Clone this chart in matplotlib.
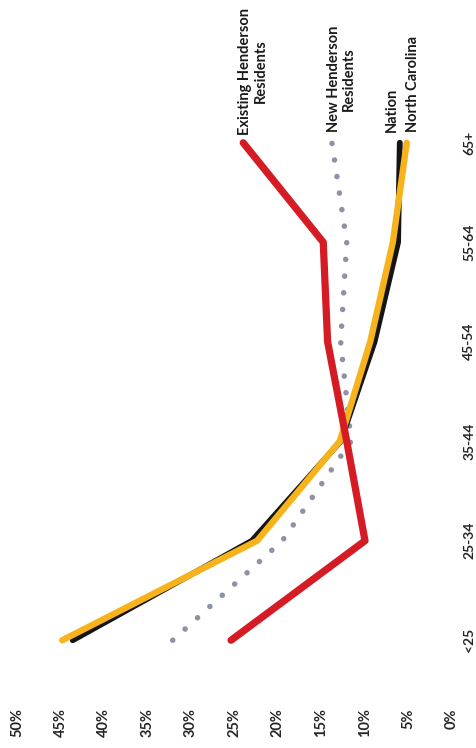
import matplotlib
matplotlib.use("Agg")
import matplotlib.pyplot as plt

# Age groups of the household head
age_groups = ["<25", "25-34", "35-44", "45-54", "55-64", "65+"]

# Share of households in each age group (%)
existing_henderson = [25.4, 10.0, 12.1, 14.3, 14.8, 24.0]
new_henderson = [32.1, 19.5, 11.6, 12.8, 12.1, 13.8]
nation = [43.6, 23.0, 12.8, 8.9, 6.2, 6.0]
north_carolina = [44.8, 22.4, 12.9, 9.4, 6.8, 5.2]

pct_ticks = [0, 5, 10, 15, 20, 25, 30, 35, 40, 45, 50]
pct_labels = [f"{t}%" for t in pct_ticks]

plt.rcParams["font.family"] = ["Lato", "DejaVu Sans"]

W, H = 476, 748
fig = plt.figure(figsize=(W / 100, H / 100), dpi=100)
ax = fig.add_axes([17 / W, (H - 690) / H, (452 - 17) / W, (690 - 93) / H])

pos = list(range(len(age_groups)))

RED = "#d51c24"
GOLD = "#f6b31c"
BLACK = "#141414"
DOTS = "#8e92a4"

ax.plot(new_henderson, pos, color=DOTS, lw=4.0, linestyle=(0, (0.01, 3.0)),
        dash_capstyle="round", zorder=2)
ax.plot(nation, pos, color=BLACK, lw=4.2, solid_capstyle="round",
        solid_joinstyle="round", zorder=3)
ax.plot(north_carolina, pos, color=GOLD, lw=4.6, solid_capstyle="round",
        solid_joinstyle="round", zorder=4)
ax.plot(existing_henderson, pos, color=RED, lw=5.2, solid_capstyle="round",
        solid_joinstyle="round", zorder=5)

ax.set_xlim(50, 0)
ax.set_ylim(-0.5, 5.5)

ax.set_xticks(pct_ticks)
ax.set_xticklabels(pct_labels, rotation=90, fontsize=10.5, fontweight="bold",
                   color="#262626")
ax.set_yticks(pos)
ax.set_yticklabels(age_groups, rotation=90, fontsize=10, fontweight="bold",
                   color="#262626", va="center")
ax.yaxis.tick_right()
ax.tick_params(axis="x", length=0, pad=13)
ax.tick_params(axis="y", length=0, pad=8)
for s in ax.spines.values():
    s.set_visible(False)

# Series names written at the top end of each line
last = len(age_groups) - 1
label_kw = dict(textcoords="offset points", rotation=90, fontsize=10.5,
                fontweight="bold", color="#1a1a1a", va="bottom")
ax.annotate("Existing Henderson\nResidents", (existing_henderson[last], last),
            xytext=(7, 5.5), ha="center", multialignment="center",
            linespacing=1.1, **label_kw)
ax.annotate("New Henderson\nResidents", (new_henderson[last], last),
            xytext=(7, 7.5), ha="center", multialignment="center",
            linespacing=1.1, **label_kw)
ax.annotate("Nation", (nation[last], last), xytext=(-6, 7.5), ha="center",
            **label_kw)
ax.annotate("North Carolina", (north_carolina[last], last), xytext=(4.5, 7.5),
            ha="center", **label_kw)

fig.savefig("out.png", dpi=100, facecolor="white")
